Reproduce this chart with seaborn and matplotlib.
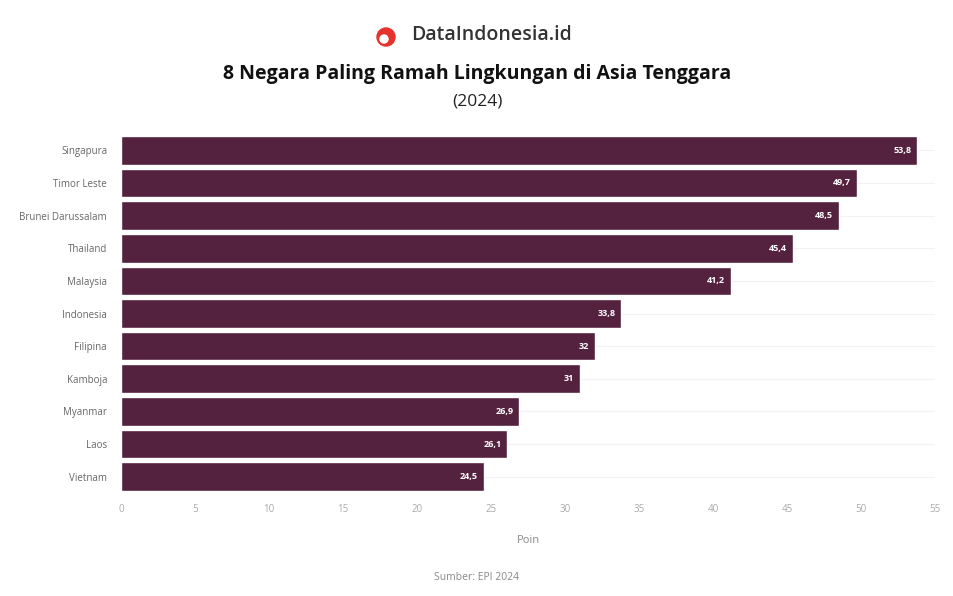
import matplotlib
matplotlib.use("Agg")
import matplotlib.pyplot as plt
from matplotlib.transforms import IdentityTransform
import seaborn as sns
import pandas as pd

countries = ["Singapura", "Timor Leste", "Brunei Darussalam", "Thailand", "Malaysia",
             "Indonesia", "Filipina", "Kamboja", "Myanmar", "Laos", "Vietnam"]
values = [53.8, 49.7, 48.5, 45.4, 41.2, 33.8, 32, 31, 26.9, 26.1, 24.5]
labels = ["53,8", "49,7", "48,5", "45,4", "41,2", "33,8", "32", "31", "26,9", "26,1", "24,5"]
xticks = [0, 5, 10, 15, 20, 25, 30, 35, 40, 45, 50, 55]

sns.set_theme(style="white")
plt.rcParams['font.family'] = ['Open Sans', 'DejaVu Sans']
df = pd.DataFrame({"Negara": countries, "Poin": values})

fig = plt.figure(figsize=(9.54, 5.96), dpi=100)
ax = fig.add_axes([121/954, 1-493/596, (935-121)/954, (493-134)/596])
sns.barplot(data=df, x="Poin", y="Negara", color="#54213f", width=0.88, ax=ax, saturation=1)
for p, lab in zip(ax.patches, labels):
    ax.text(p.get_width() - 0.4, p.get_y() + p.get_height()/2, lab, ha="right", va="center",
            color="white", fontsize=6.5, fontweight="bold")
ax.set_xlim(0, 55)
ax.set_xticks(xticks)
ax.set_xticklabels([str(t) for t in xticks], fontsize=7, color="#aaaaaa")
ax.tick_params(axis="y", labelsize=7, colors="#666666", length=0, pad=10)
ax.tick_params(axis="x", length=0, pad=8)
ax.set_ylabel("")
ax.set_xlabel("Poin", fontsize=8, color="#888888", labelpad=14)
for y in range(len(countries)):
    ax.axhline(y, color="#f2f2f2", lw=0.8, zorder=0)
for s in ax.spines.values():
    s.set_visible(False)

fig.patches.append(matplotlib.patches.Circle((386, 596-37), 9, transform=IdentityTransform(),
                                             color="#e5322d"))
fig.patches.append(matplotlib.patches.Circle((384, 596-39), 4, transform=IdentityTransform(),
                                             color="white"))
fig.text(411/954, 1-35/596, "DataIndonesia.id", fontsize=14, fontweight="semibold",
         color="#333333", va="center", ha="left")
fig.text(0.5, 1-74/596, "8 Negara Paling Ramah Lingkungan di Asia Tenggara", fontsize=14,
         fontweight="bold", ha="center", va="center", color="#111111")
fig.text(0.5, 1-101/596, "(2024)", fontsize=12.5, ha="center", va="center", color="#222222")
fig.text(0.5, 1-577/596, "Sumber: EPI 2024", fontsize=7.5, ha="center", va="center", color="#888888")
fig.savefig("out.png", dpi=100)
